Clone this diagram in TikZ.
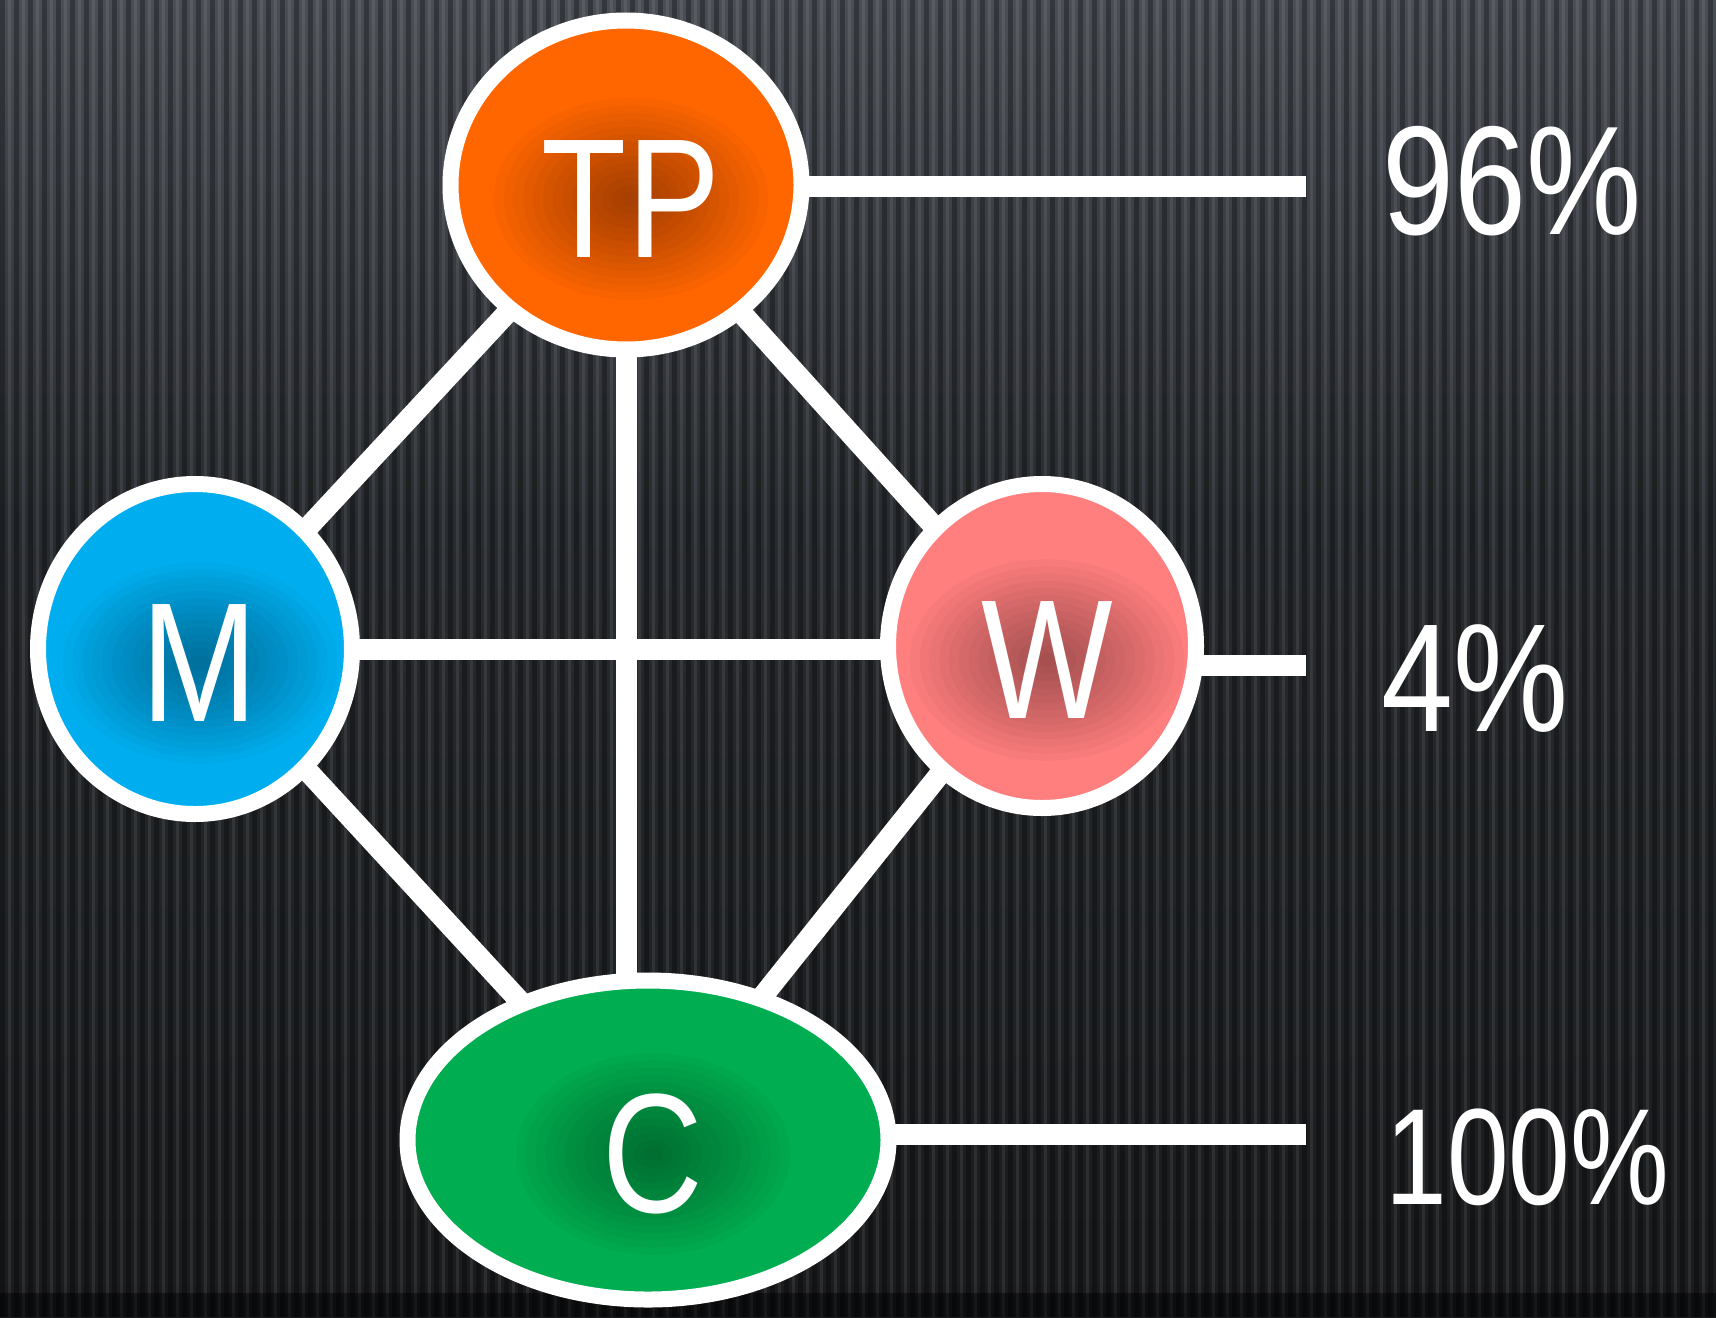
\documentclass[tikz,border=0pt]{standalone}
\usepackage{fontspec}
\setmainfont{Liberation Sans}
\usetikzlibrary{shapes.geometric}
\definecolor{tpc}{RGB}{255,102,0}
\definecolor{mc}{RGB}{0,174,239}
\definecolor{wc}{RGB}{255,127,127}
\definecolor{cc}{RGB}{0,173,80}
\definecolor{bga}{RGB}{16,17,19}
\definecolor{bgb}{RGB}{27,29,31}
\definecolor{bgc}{RGB}{40,43,47}
\definecolor{bgd}{RGB}{74,78,85}
\definecolor{bge}{RGB}{96,100,108}
\pgfdeclarelayer{bglayer}
\pgfdeclarelayer{edgelayer}
\pgfsetlayers{bglayer,edgelayer,main}
\pgfdeclareverticalshading{bgshade}{100bp}{color(0bp)=(bga); color(30bp)=(bgb); color(55bp)=(bgc); color(75bp)=(bgd); color(100bp)=(bge)}
\tikzset{
  vert/.style={ellipse, draw=white, line width=8pt, inner sep=0pt, text=white,
    font=\fontsize{85}{90}\selectfont,
    path picture={\foreach \k in {1,...,14}{\fill[black, opacity=0.027]
      ([xshift=2.5pt,yshift=-7pt]path picture bounding box.center) ellipse ({\k*4.9pt} and {\k*3.6pt});}}},
  link/.style={draw=white, line width=10.5pt},
  pct/.style={text=white, inner sep=0pt, anchor=base west},
}
\newcommand{\lett}[1]{\raisebox{-7pt}[\height][\depth]{\hspace*{5pt}\scalebox{0.82}[1]{#1}}}
\begin{document}
\begin{tikzpicture}[x=0.5pt,y=-0.5pt]
\useasboundingbox (0,0) rectangle (1716,1317);
% nodes
\node[vert, fill=tpc, minimum width=175.5pt, minimum height=164.5pt] (TP) at (626,185) {\lett{TP}};
\node[vert, fill=mc, minimum width=157pt, minimum height=165pt] (M) at (195,649) {\lett{M}};
\node[vert, fill=wc, minimum width=154pt, minimum height=162pt] (W) at (1042,646) {\lett{W}};
\node[vert, fill=cc, minimum width=240.5pt, minimum height=159.5pt] (C) at (648,1140) {\lett{C}};
% labels
\node[pct, font=\fontsize{77.5}{80}\selectfont] (p96) at (1382,234) {\scalebox{0.835}[1]{96\%}};
\node[pct, font=\fontsize{77}{80}\selectfont] (p4) at (1381,731) {\scalebox{0.84}[1]{4\%}};
\node[pct, font=\fontsize{68.5}{72}\selectfont] (p100) at (1385,1204) {\scalebox{0.81}[1]{100\%}};
\coordinate (e1) at (1306,186);
\coordinate (e2) at (1306,665);
\coordinate (e3) at (1306,1134);
\begin{pgfonlayer}{bglayer}
  \shade[shading=bgshade] (0,0) rectangle (1716,1317);
  \foreach \i in {0,...,122} {
    \fill[black,opacity=0.3] (\i*14,0) rectangle (\i*14+5,1317);
    \fill[white,opacity=0.08] (\i*14+8,0) rectangle (\i*14+11,1317);
  }
  \fill[black,opacity=0.45] (0,1293) rectangle (1716,1317);
\end{pgfonlayer}
\begin{pgfonlayer}{edgelayer}
  \draw[link] (TP.center) -- (M.center);
  \draw[link] (TP.center) -- (W.center);
  \draw[link] (TP.center) -- (TP.center |- C.center);
  \draw[link] (M.center) -- (M.center -| W.center);
  \draw[link] (M.center) -- (C.center);
  \draw[link] (W.center) -- (C.center);
  \draw[link] (TP.center |- e1) -- (e1);
  \draw[link] (W.center |- e2) -- (e2);
  \draw[link] (C.center |- e3) -- (e3);
\end{pgfonlayer}
\end{tikzpicture}
\end{document}
